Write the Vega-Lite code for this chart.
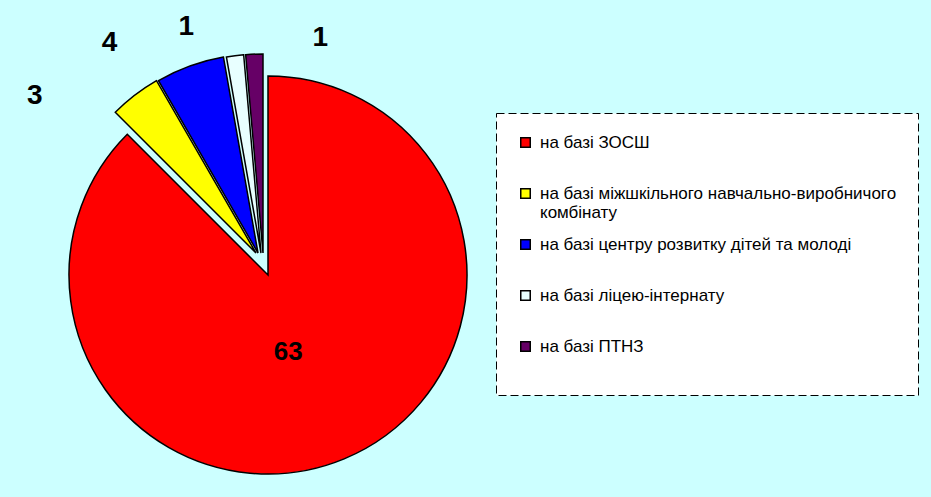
{
  "$schema": "https://vega.github.io/schema/vega-lite/v6.json",
  "width": 536,
  "height": 550,
  "autosize": {"type": "none"},
  "padding": {"left": 0, "top": 0, "right": 395, "bottom": 0},
  "background": "#CCFFFF",
  "config": {"view": {"stroke": null}, "legend": {"strokeDash": [8, 4]}},
  "data": {
    "values": [
      {"cat": "на базі ЗОСШ", "n": 63, "ord": 1},
      {"cat": "на базі міжшкільного навчально-виробничого комбінату", "n": 3, "ord": 2},
      {"cat": "на базі центру розвитку дітей та молоді", "n": 4, "ord": 3},
      {"cat": "на базі ліцею-інтернату", "n": 1, "ord": 4},
      {"cat": "на базі ПТНЗ", "n": 1, "ord": 5}
    ]
  },
  "encoding": {
    "theta": {"field": "n", "type": "quantitative", "stack": true},
    "order": {"field": "ord", "type": "quantitative"}
  },
  "layer": [
    {
      "mark": {"type": "arc", "outerRadius": 199, "stroke": "black", "strokeWidth": 1.5},
      "encoding": {
        "color": {
          "field": "cat", "type": "nominal",
          "scale": {
            "domain": ["на базі ЗОСШ", "на базі міжшкільного навчально-виробничого комбінату", "на базі центру розвитку дітей та молоді", "на базі ліцею-інтернату", "на базі ПТНЗ"],
            "range": ["#FF0000", "#FFFF00", "#0000FF", "#E8FFFF", "#660066"]
          },
          "legend": {
            "title": null,
            "orient": "none",
            "legendX": 496,
            "legendY": 113,
            "direction": "vertical",
            "fillColor": "white",
            "strokeColor": "black",
            "padding": 21,
            "symbolType": "square",
            "symbolSize": 90,
            "symbolStrokeColor": "black",
            "symbolStrokeWidth": 1.5,
            "symbolOpacity": 1,
            "labelFont": "Liberation Sans",
            "labelFontSize": 17,
            "labelColor": "black",
            "labelLimit": 500,
            "labelOffset": 6,
            "rowPadding": 14,
            "labelExpr": "datum.label == 'на базі міжшкільного навчально-виробничого комбінату' ? ['на базі міжшкільного навчально-виробничого', 'комбінату'] : [datum.label, '']"
          }
        },
        "opacity": {"condition": {"test": "datum.ord == 1", "value": 1}, "value": 0}
      }
    },
    {
      "mark": {"type": "arc", "outerRadius": 199, "stroke": "black", "strokeWidth": 1.5, "xOffset": -12, "yOffset": -22},
      "encoding": {
        "color": {"field": "cat", "type": "nominal"},
        "opacity": {"condition": {"test": "datum.ord == 2", "value": 1}, "value": 0}
      }
    },
    {
      "mark": {"type": "arc", "outerRadius": 199, "stroke": "black", "strokeWidth": 1.5, "xOffset": -10, "yOffset": -22},
      "encoding": {
        "color": {"field": "cat", "type": "nominal"},
        "opacity": {"condition": {"test": "datum.ord == 3", "value": 1}, "value": 0}
      }
    },
    {
      "mark": {"type": "arc", "outerRadius": 199, "stroke": "black", "strokeWidth": 1.5, "xOffset": -7, "yOffset": -22},
      "encoding": {
        "color": {"field": "cat", "type": "nominal"},
        "opacity": {"condition": {"test": "datum.ord == 4", "value": 1}, "value": 0}
      }
    },
    {
      "mark": {"type": "arc", "outerRadius": 199, "stroke": "black", "strokeWidth": 1.5, "xOffset": -5, "yOffset": -22},
      "encoding": {
        "color": {"field": "cat", "type": "nominal"},
        "opacity": {"condition": {"test": "datum.ord == 5", "value": 1}, "value": 0}
      }
    },
    {
      "mark": {"type": "text", "radius": 80, "thetaOffset": 0.138, "font": "Liberation Sans", "fontSize": 26, "fontWeight": "bold", "color": "black", "align": "center", "baseline": "middle"},
      "encoding": {
        "text": {"field": "n", "type": "quantitative"},
        "opacity": {"condition": {"test": "datum.ord == 1", "value": 1}, "value": 0}
      }
    },
    {
      "mark": {"type": "text", "radius": 294, "thetaOffset": -0.262, "font": "Liberation Sans", "fontSize": 28, "fontWeight": "bold", "color": "black", "align": "center", "baseline": "middle"},
      "encoding": {
        "text": {"field": "n", "type": "quantitative"},
        "opacity": {"condition": {"test": "datum.ord == 2", "value": 1}, "value": 0}
      }
    },
    {
      "mark": {"type": "text", "radius": 281, "thetaOffset": -0.250, "font": "Liberation Sans", "fontSize": 28, "fontWeight": "bold", "color": "black", "align": "center", "baseline": "middle"},
      "encoding": {
        "text": {"field": "n", "type": "quantitative"},
        "opacity": {"condition": {"test": "datum.ord == 3", "value": 1}, "value": 0}
      }
    },
    {
      "mark": {"type": "text", "radius": 261, "thetaOffset": -0.188, "font": "Liberation Sans", "fontSize": 28, "fontWeight": "bold", "color": "black", "align": "center", "baseline": "middle"},
      "encoding": {
        "text": {"field": "n", "type": "quantitative"},
        "opacity": {"condition": {"test": "datum.ord == 4", "value": 1}, "value": 0}
      }
    },
    {
      "mark": {"type": "text", "radius": 243, "thetaOffset": 0.260, "font": "Liberation Sans", "fontSize": 28, "fontWeight": "bold", "color": "black", "align": "center", "baseline": "middle"},
      "encoding": {
        "text": {"field": "n", "type": "quantitative"},
        "opacity": {"condition": {"test": "datum.ord == 5", "value": 1}, "value": 0}
      }
    }
  ]
}
